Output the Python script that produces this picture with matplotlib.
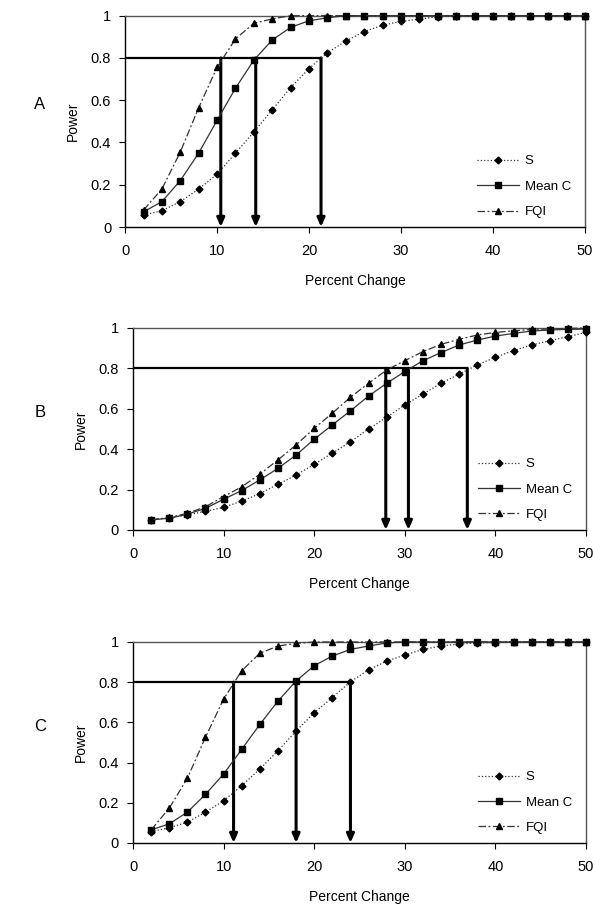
import matplotlib
matplotlib.use("Agg")
import matplotlib.pyplot as plt

pct = [2, 4, 6, 8, 10, 12, 14, 16, 18, 20, 22, 24, 26, 28, 30, 32, 34, 36, 38, 40, 42, 44, 46, 48, 50]

# panel A
a_s = [0.057, 0.077, 0.12, 0.18, 0.25, 0.35, 0.45, 0.555, 0.66, 0.75, 0.825, 0.88, 0.925, 0.955,
       0.973, 0.984, 0.995, 1, 1, 1, 1, 1, 1, 1, 1]
a_c = [0.072, 0.12, 0.22, 0.35, 0.505, 0.657, 0.79, 0.885, 0.945, 0.976, 0.99, 1, 1, 1,
       1, 1, 1, 1, 1, 1, 1, 1, 1, 1, 1]
a_f = [0.08, 0.18, 0.355, 0.565, 0.756, 0.89, 0.964, 0.985, 1, 1, 1, 1, 1, 1,
       1, 1, 1, 1, 1, 1, 1, 1, 1, 1, 1]
a_arrows = [10.4, 14.2, 21.3]

# panel B
b_s = [0.05, 0.06, 0.075, 0.092, 0.112, 0.143, 0.18, 0.226, 0.272, 0.325, 0.38, 0.437, 0.5,
       0.558, 0.619, 0.673, 0.726, 0.772, 0.817, 0.855, 0.888, 0.916, 0.937, 0.957, 0.978]
b_c = [0.05, 0.058, 0.078, 0.107, 0.152, 0.195, 0.248, 0.305, 0.371, 0.449, 0.52, 0.59, 0.663,
       0.726, 0.784, 0.838, 0.878, 0.916, 0.94, 0.96, 0.973, 0.985, 0.99, 0.993, 0.995]
b_f = [0.05, 0.062, 0.082, 0.115, 0.165, 0.214, 0.276, 0.347, 0.421, 0.503, 0.578, 0.657, 0.726,
       0.792, 0.838, 0.883, 0.919, 0.944, 0.965, 0.978, 0.986, 0.993, 0.995, 0.998, 1]
b_arrows = [27.9, 30.4, 36.9]

# panel C
c_s = [0.056, 0.076, 0.103, 0.153, 0.21, 0.285, 0.368, 0.459, 0.557, 0.648, 0.723, 0.802, 0.861,
       0.905, 0.935, 0.963, 0.98, 0.99, 0.995, 0.997, 1, 1, 1, 1, 1]
c_c = [0.065, 0.095, 0.153, 0.242, 0.343, 0.466, 0.59, 0.706, 0.806, 0.882, 0.93, 0.963, 0.98,
       0.995, 1, 1, 1, 1, 1, 1, 1, 1, 1, 1, 1]
c_f = [0.065, 0.173, 0.322, 0.526, 0.716, 0.857, 0.944, 0.98, 0.993, 1, 1, 1, 1,
       1, 1, 1, 1, 1, 1, 1, 1, 1, 1, 1, 1]
c_arrows = [11.1, 18.0, 24.0]

panels = [("A", a_s, a_c, a_f, a_arrows, [0.211, 0.7497, 0.7755, 0.233]),
          ("B", b_s, b_c, b_f, b_arrows, [0.2243, 0.4157, 0.7639, 0.2227]),
          ("C", c_s, c_c, c_f, c_arrows, [0.2243, 0.0706, 0.7639, 0.2216])]

plt.rcParams['font.family'] = ['Liberation Sans', 'DejaVu Sans']

fig = plt.figure(figsize=(5.93, 9.07), dpi=100)

for name, s, c, f, arrows, pos in panels:
    ax = fig.add_axes(pos)
    # power threshold line and arrows
    ax.plot([0, max(arrows)], [0.8, 0.8], color='black', lw=1.6, zorder=2)
    for xa in arrows:
        ax.annotate("", xy=(xa, 0), xytext=(xa, 0.8),
                    arrowprops=dict(arrowstyle='-|>,head_length=0.5,head_width=0.22',
                                    color='black', lw=2.2, shrinkA=0, shrinkB=0),
                    zorder=3)
    ax.plot(pct, s, linestyle=':', color='#333333', lw=0.9, marker='D', markersize=3.5,
            markerfacecolor='black', markeredgecolor='black', label='S', clip_on=False, zorder=4)
    ax.plot(pct, c, linestyle='-', color='#333333', lw=0.9, marker='s', markersize=4.5,
            markerfacecolor='black', markeredgecolor='black', label='Mean C', clip_on=False, zorder=4)
    ax.plot(pct, f, linestyle=(0, (6, 2, 1.5, 2)), color='#333333', lw=0.9, marker='^', markersize=4.5,
            markerfacecolor='black', markeredgecolor='black', label='FQI', clip_on=False, zorder=4)

    ax.set_xlim(0, 50)
    ax.set_ylim(0, 1)
    ax.set_xticks([0, 10, 20, 30, 40, 50])
    ax.set_yticks([0, 0.2, 0.4, 0.6, 0.8, 1])
    ax.set_yticklabels(['0', '0.2', '0.4', '0.6', '0.8', '1'])
    ax.tick_params(axis='both', labelsize=10.5, direction='out', length=4, width=0.8)
    ax.tick_params(axis='y', pad=6)
    ax.tick_params(axis='x', pad=8.5)
    for side in ['top', 'right']:
        ax.spines[side].set_color('#555555')
        ax.spines[side].set_linewidth(1.0)
    for side in ['left', 'bottom']:
        ax.spines[side].set_linewidth(1.0)
    ax.set_xlabel("Percent Change", fontsize=10, labelpad=11)
    ax.set_ylabel("Power", fontsize=10, labelpad=8)
    ax.legend(loc='lower right', bbox_to_anchor=(0.995, -0.015), frameon=False, fontsize=9.5,
              handlelength=3.2, labelspacing=1.0, handletextpad=0.4)
    fig.text(0.067, pos[1] + pos[3] * 0.58, name, fontsize=12, ha='center', va='center')

fig.savefig("out.png", dpi=100)
